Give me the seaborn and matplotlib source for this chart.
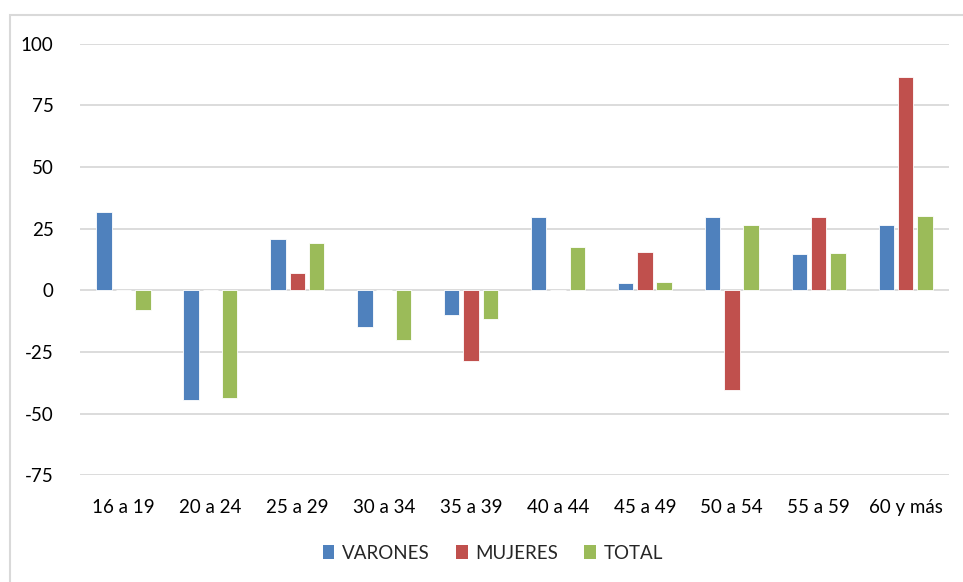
import pandas as pd
import numpy as np
import matplotlib.pyplot as plt
import seaborn as sns
from matplotlib.patches import Rectangle, Patch

# Data
grupos = ['16 a 19', '20 a 24', '25 a 29', '30 a 34', '35 a 39',
          '40 a 44', '45 a 49', '50 a 54', '55 a 59', '60 y más']
varones = [31.8, -44.4, 20.8, -15.0, -10.1, 29.9, 3.0, 29.9, 14.9, 26.5]
mujeres = [0, 0, 7.0, 0, -28.8, 0, 15.6, -40.3, 29.9, 86.6]
total = [-8.1, -43.8, 19.2, -20.1, -11.8, 17.7, 3.5, 26.4, 15.2, 30.3]
series = ['VARONES', 'MUJERES', 'TOTAL']
colores = ['#4F81BD', '#C0504D', '#9BBB59']

df = pd.DataFrame({'grupo': grupos, 'VARONES': varones, 'MUJERES': mujeres, 'TOTAL': total})
df = df.melt(id_vars='grupo', var_name='serie', value_name='valor')

sns.set_style('white')
plt.rcParams['font.family'] = ['Lato', 'DejaVu Sans']
plt.rcParams['axes.unicode_minus'] = False

fig = plt.figure(figsize=(9.63, 5.82), dpi=100)
ax = fig.add_axes([0.0831, 0.1833, 0.9024, 0.7416])

sns.barplot(data=df, x='grupo', y='valor', hue='serie', hue_order=series,
            palette=colores, width=0.667, gap=0.2, ax=ax,
            edgecolor='white', linewidth=0.6, saturation=1, legend=False)

ax.set_ylim(-75, 100)
ax.set_yticks(np.arange(-75, 101, 25))
ax.set_xlim(-0.5, len(grupos) - 0.5)
ax.yaxis.grid(True, color='#D9D9D9', linewidth=1.3)
ax.set_axisbelow(True)
for s in ax.spines.values():
    s.set_visible(False)
ax.tick_params(axis='both', length=0, labelsize=13.5, colors='#000000')
ax.tick_params(axis='y', pad=19)
ax.tick_params(axis='x', pad=17)
ax.set_xlabel('')
ax.set_ylabel('')

handles = [Patch(facecolor=c, edgecolor='none') for c in colores]
leg = ax.legend(handles, series, loc='center', bbox_to_anchor=(0.475, -0.18), ncol=3,
                frameon=False, fontsize=13.5, handlelength=0.62, handleheight=0.85,
                handletextpad=0.4, columnspacing=1.4)

# outer chart border (cropped at right and bottom)
fig.patches.append(Rectangle((10 / 963, -0.05), 1.1, 0.05 + (582 - 15) / 582,
                             transform=fig.transFigure, fill=False,
                             edgecolor='#D9D9D9', linewidth=1.5))

plt.savefig('out.png', dpi=100)
